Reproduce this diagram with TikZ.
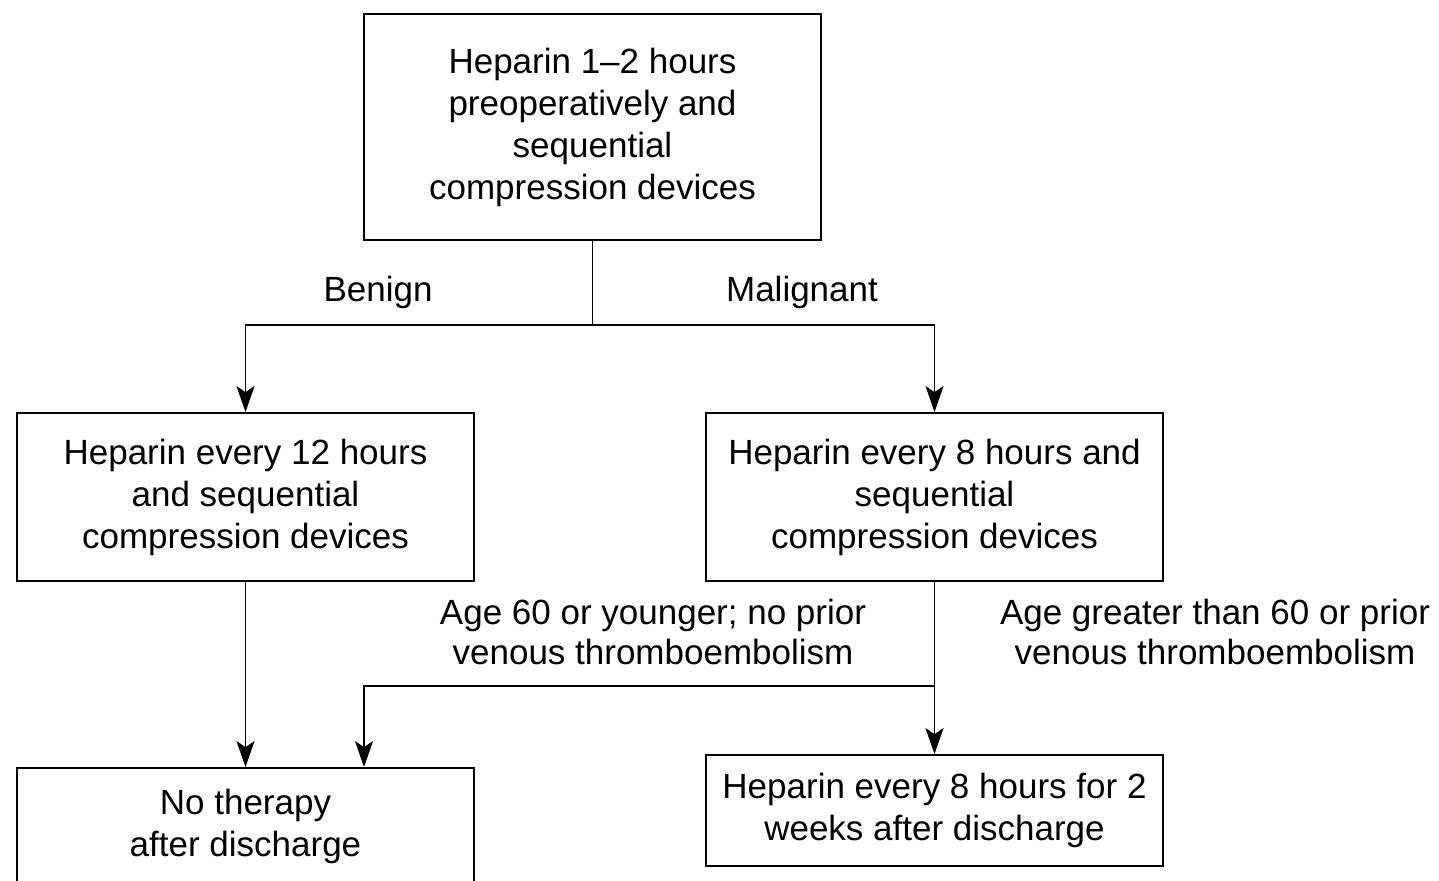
\documentclass[tikz,border=0pt]{standalone}
\usepackage{fontspec}
\setmainfont{Liberation Sans}
\usetikzlibrary{arrows.meta}
\begin{document}
\begin{tikzpicture}[x=0.5pt,y=-0.5pt,
  every node/.style={font=\fontsize{17.5}{21}\selectfont, inner sep=0pt},
  box/.style={draw, line width=0.9pt, minimum width=228.5pt, align=center},
  lbl/.style={align=center, font=\fontsize{17.5}{20}\selectfont},
  conn/.style={line width=0.9pt},
  arr/.style={conn, -{Stealth[length=13pt,width=9pt,inset=3pt]}}]
\clip (0,0) rectangle (1439,880);
\fill[white] (0,0) rectangle (1439,880);
\node[box, minimum height=113pt] (top) at (592.5,127) {Heparin 1--2 hours\\preoperatively and\\sequential\\compression devices};
\node[box, minimum height=84pt] (left) at (245.5,497) {Heparin every 12 hours\\and sequential\\compression devices};
\node[box, minimum height=84pt] (right) at (934.5,497) {Heparin every 8 hours and\\sequential\\compression devices};
\node[box, minimum height=55.5pt] (br) at (934.5,810.5) {Heparin every 8 hours for 2\\weeks after discharge};
\node[box, minimum height=58pt] (bl) at (245.5,826) {No therapy\\after discharge};
\node[lbl] (benign) at (378,292) {Benign};
\node[lbl] (malig) at (802,292) {Malignant};
\node[lbl] (young) at (653,632) {Age 60 or younger; no prior\\venous thromboembolism};
\node[lbl] (old) at (1215,632) {Age greater than 60 or prior\\venous thromboembolism};
\coordinate (j1) at (top.south |- 0,325);
\draw[conn] (top.south) -- (j1);
\draw[arr] (j1) -| (left.north);
\draw[arr] (j1) -| (right.north);
\draw[arr] (left.south) -- (bl.north);
\draw[arr] (right.south) -- (br.north);
\coordinate (j2) at (right.south |- 0,686);
\coordinate (j3) at (364,686);
\draw[arr] (j2) -- (j3) -- (j3 |- bl.north);
\end{tikzpicture}
\end{document}
